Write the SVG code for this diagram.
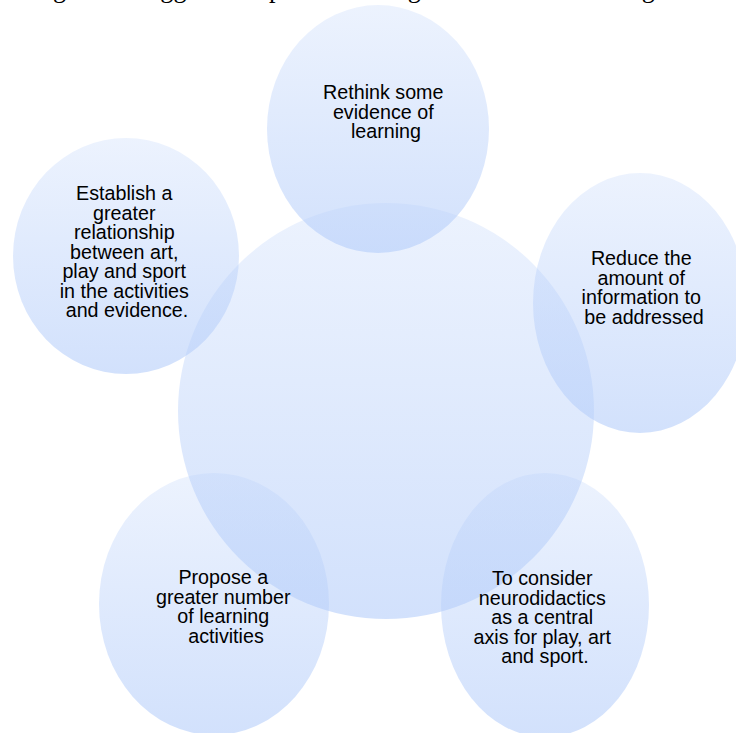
<svg xmlns="http://www.w3.org/2000/svg" width="736" height="733" viewBox="0 0 736 733">
  <defs>
    <!-- translucent blue wash, lighter at the top of each shape -->
    <linearGradient id="wash" x1="0" y1="0" x2="0" y2="1">
      <stop offset="0" stop-color="#B4CDFA" stop-opacity="0.25"/>
      <stop offset="1" stop-color="#B4CDFA" stop-opacity="0.6"/>
    </linearGradient>
  </defs>
  <style>
    .bubble { fill: url(#wash); stroke: none; }
    .label { font-family: "Liberation Sans", Arial, sans-serif; font-size: 19.7px; fill: #000; text-anchor: middle; }
    .caption { font-family: "Liberation Serif", "Times New Roman", serif; font-size: 26.3px; fill: #000; }
  </style>

  <rect width="736" height="733" fill="#FFFFFF"/>

  <!-- caption, clipped by the top edge -->
  <text class="caption" x="31" y="-3">Figure 1. Suggested aspects to strengthen the curricular organization</text>

  <g id="hub">
    <circle class="bubble" cx="386" cy="411" r="208"/>
  </g>

  <g id="node-rethink">
    <ellipse class="bubble" cx="378" cy="129" rx="111" ry="124"/>
    <text class="label">
      <tspan x="386" y="99">Rethink some</tspan>
      <tspan x="386" y="118.5">evidence of</tspan>
      <tspan x="386" y="138">learning</tspan>
    </text>
  </g>

  <g id="node-establish">
    <ellipse class="bubble" cx="126" cy="256" rx="113" ry="118"/>
    <text class="label">
      <tspan x="127" y="200">Establish a</tspan>
      <tspan x="127" y="219.5">greater</tspan>
      <tspan x="127" y="239">relationship</tspan>
      <tspan x="127" y="258.5">between art,</tspan>
      <tspan x="127" y="278">play and sport</tspan>
      <tspan x="127" y="297.5">in the activities</tspan>
      <tspan x="127" y="317">and evidence.</tspan>
    </text>
  </g>

  <g id="node-reduce">
    <ellipse class="bubble" cx="640" cy="303" rx="107" ry="130"/>
    <text class="label">
      <tspan x="644" y="265">Reduce the</tspan>
      <tspan x="644" y="284.5">amount of</tspan>
      <tspan x="644" y="304">information to</tspan>
      <tspan x="644" y="323.5">be addressed</tspan>
    </text>
  </g>

  <g id="node-propose">
    <ellipse class="bubble" cx="214" cy="604" rx="115" ry="131"/>
    <text class="label">
      <tspan x="226" y="584">Propose a</tspan>
      <tspan x="226" y="603.5">greater number</tspan>
      <tspan x="226" y="623">of learning</tspan>
      <tspan x="226" y="642.5">activities</tspan>
    </text>
  </g>

  <g id="node-neurodidactics">
    <ellipse class="bubble" cx="545" cy="605" rx="104" ry="132"/>
    <text class="label">
      <tspan x="545" y="585">To consider</tspan>
      <tspan x="545" y="604.5">neurodidactics</tspan>
      <tspan x="545" y="624">as a central</tspan>
      <tspan x="545" y="643.5">axis for play, art</tspan>
      <tspan x="545" y="663">and sport.</tspan>
    </text>
  </g>
</svg>
